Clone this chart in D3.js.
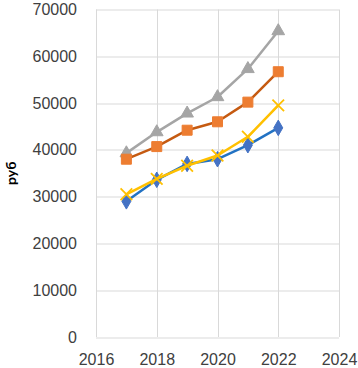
<!DOCTYPE html>
<html>
<head>
<meta charset="utf-8">
<script src="https://cdn.jsdelivr.net/npm/d3@7"></script>
<style>
  body { margin: 0; background: #fff; }
  svg { display: block; font-family: Lato, "Open Sans", sans-serif; }
</style>
</head>
<body>
<div id="chart"></div>
<script>
const years = [2017, 2018, 2019, 2020, 2021, 2022];
const seriesBlue = [29000, 33600, 37000, 38000, 41000, 44700];
const seriesOrange = [38000, 40700, 44200, 46000, 50200, 56700];
const seriesGray = [39300, 43800, 47800, 51300, 57300, 65400];
const seriesYellow = [30500, 33800, 36600, 38800, 42800, 49500];
const xTicks = [2016, 2018, 2020, 2022, 2024];
const yTicks = [0, 10000, 20000, 30000, 40000, 50000, 60000, 70000];
const yLabel = "руб";

const W = 358, H = 368;
const margin = { top: 9.5, right: 19, bottom: 31, left: 96 };
const width = W - margin.left - margin.right;
const height = H - margin.top - margin.bottom;

const svg = d3.select("#chart").append("svg")
    .attr("width", W)
    .attr("height", H)
    .append("g")
    .attr("transform", `translate(${margin.left},${margin.top})`);

const x = d3.scaleLinear().domain([2016, 2024]).range([0, width]);
const y = d3.scaleLinear().domain([0, 70000]).range([height, 0]);

// gridlines
svg.append("g")
    .selectAll("line.h")
    .data(yTicks)
    .enter().append("line")
    .attr("x1", 0).attr("x2", width)
    .attr("y1", d => Math.round(y(d)) + 0.5).attr("y2", d => Math.round(y(d)) + 0.5)
    .attr("stroke", "#d9d9d9");

svg.append("g")
    .selectAll("line.v")
    .data(xTicks)
    .enter().append("line")
    .attr("y1", 0).attr("y2", height)
    .attr("x1", d => Math.round(x(d)) + 0.5).attr("x2", d => Math.round(x(d)) + 0.5)
    .attr("stroke", "#d9d9d9");

// axes
const yAxis = svg.append("g")
    .call(d3.axisLeft(y).tickValues(yTicks).tickSize(0).tickPadding(19).tickFormat(d3.format("d")));
yAxis.select(".domain").remove();
yAxis.selectAll("text").style("font-size", "16px").attr("fill", "#404040");

const xAxis = svg.append("g")
    .attr("transform", `translate(0,${height})`)
    .call(d3.axisBottom(x).tickValues(xTicks).tickSize(0).tickPadding(16.5).tickFormat(d3.format("d")));
xAxis.select(".domain").remove();
xAxis.selectAll("text").style("font-size", "16px").attr("fill", "#404040");

svg.append("text")
    .attr("transform", "rotate(-90)")
    .attr("x", -height / 2)
    .attr("y", -margin.left + 16)
    .attr("text-anchor", "middle")
    .style("font-size", "14px")
    .style("font-weight", "bold")
    .attr("fill", "#000")
    .text(yLabel);

const line = d3.line().x((d, i) => x(years[i])).y(d => y(d));

function drawSeries(values, lineColor, markerColor, symbol, size) {
    svg.append("path")
        .datum(values)
        .attr("fill", "none")
        .attr("stroke", lineColor)
        .attr("stroke-width", 2.5)
        .attr("stroke-linejoin", "round")
        .attr("d", line);
    svg.append("g")
        .selectAll("path")
        .data(values)
        .enter().append("path")
        .attr("transform", (d, i) => `translate(${x(years[i])},${y(d)})`)
        .attr("d", d3.symbol().type(symbol).size(size))
        .attr("fill", symbol === d3.symbolX ? "none" : markerColor)
        .attr("stroke", markerColor)
        .attr("stroke-width", symbol === d3.symbolX ? 1.8 : 1);
}

drawSeries(seriesGray, "#a5a5a5", "#a5a5a5", d3.symbolTriangle, 70);
drawSeries(seriesOrange, "#c55a11", "#ed7d31", d3.symbolSquare, 100);
drawSeries(seriesBlue, "#2272c3", "#4472c4", d3.symbolDiamond, 70);
drawSeries(seriesYellow, "#ffc000", "#ffc000", d3.symbolX, 90);
</script>
</body>
</html>
